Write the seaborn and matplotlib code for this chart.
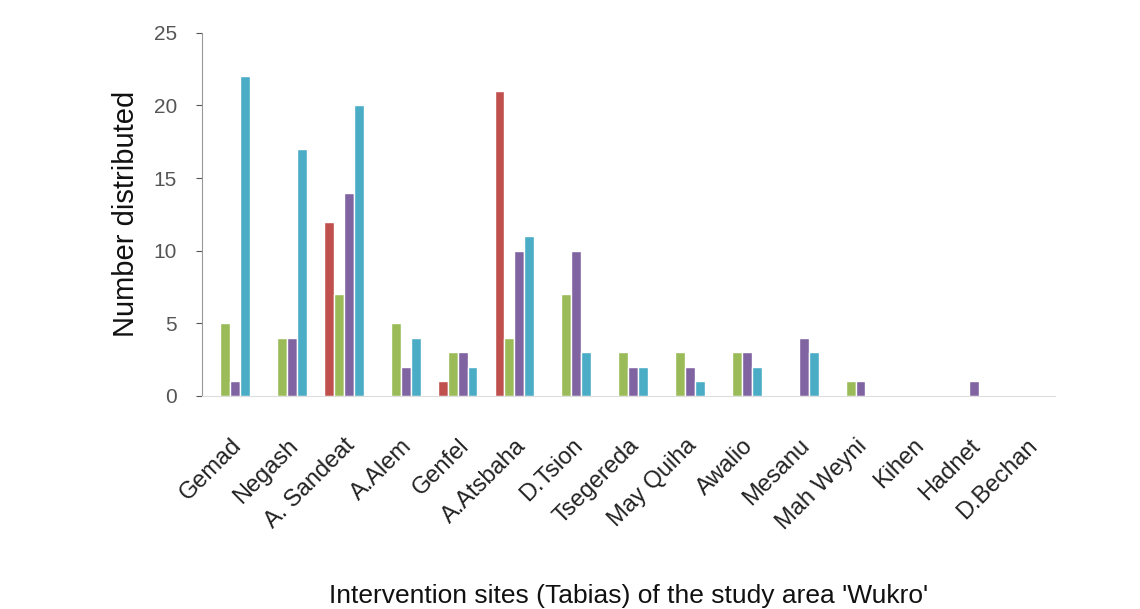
import pandas as pd
import matplotlib.pyplot as plt
import seaborn as sns

# === Data ===
sites = ['Gemad', 'Negash', 'A. Sandeat', 'A.Alem', 'Genfel', 'A.Atsbaha', 'D.Tsion',
         'Tsegereda', 'May Quiha', 'Awalio', 'Mesanu', 'Mah Weyni', 'Kihen', 'Hadnet', 'D.Bechan']
series_names = ['Series 1', 'Series 2', 'Series 3', 'Series 4']
red_vals = [0, 0, 12, 0, 1, 21, 0, 0, 0, 0, 0, 0, 0, 0, 0]
green_vals = [5, 4, 7, 5, 3, 4, 7, 3, 3, 3, 0, 1, 0, 0, 0]
purple_vals = [1, 4, 14, 2, 3, 10, 10, 2, 2, 3, 4, 1, 0, 1, 0]
blue_vals = [22, 17, 20, 4, 2, 11, 3, 2, 1, 2, 3, 0, 0, 0, 0]
colors = ['#C0504D', '#9BBB59', '#8064A2', '#4BACC6']

rows = []
for name, vals in zip(series_names, [red_vals, green_vals, purple_vals, blue_vals]):
    for site, v in zip(sites, vals):
        rows.append({'site': site, 'series': name, 'value': v})
df = pd.DataFrame(rows)

sns.set_style('white')
plt.rcParams['font.family'] = ['Liberation Sans', 'DejaVu Sans']

fig = plt.figure(figsize=(11.4, 6.09), dpi=100)
ax = fig.add_axes([0.177, 0.35, 0.748, 0.596])

sns.barplot(data=df, x='site', y='value', hue='series', palette=colors,
            width=0.7, ax=ax, legend=False, saturation=1)

ax.set_ylim(0, 25)
ax.set_yticks([0, 5, 10, 15, 20, 25])
ax.set_xlim(-0.5, len(sites) - 0.5)
ax.tick_params(axis='y', labelsize=15, colors='#555555', length=4, left=True, pad=14)
ax.tick_params(axis='x', labelsize=17, length=0, pad=28)
plt.setp(ax.get_xticklabels(), rotation=45, ha='right', rotation_mode='anchor', color='#222222')
ax.set_ylabel('Number distributed', fontsize=21, color='#111111', labelpad=10)
ax.set_xlabel("Intervention sites (Tabias) of the study area 'Wukro'", fontsize=19,
              color='#111111', labelpad=36)

for side in ['top', 'right']:
    ax.spines[side].set_visible(False)
ax.spines['left'].set_color('#999999')
ax.spines['bottom'].set_color('#dddddd')

fig.savefig('out.png', dpi=100)
